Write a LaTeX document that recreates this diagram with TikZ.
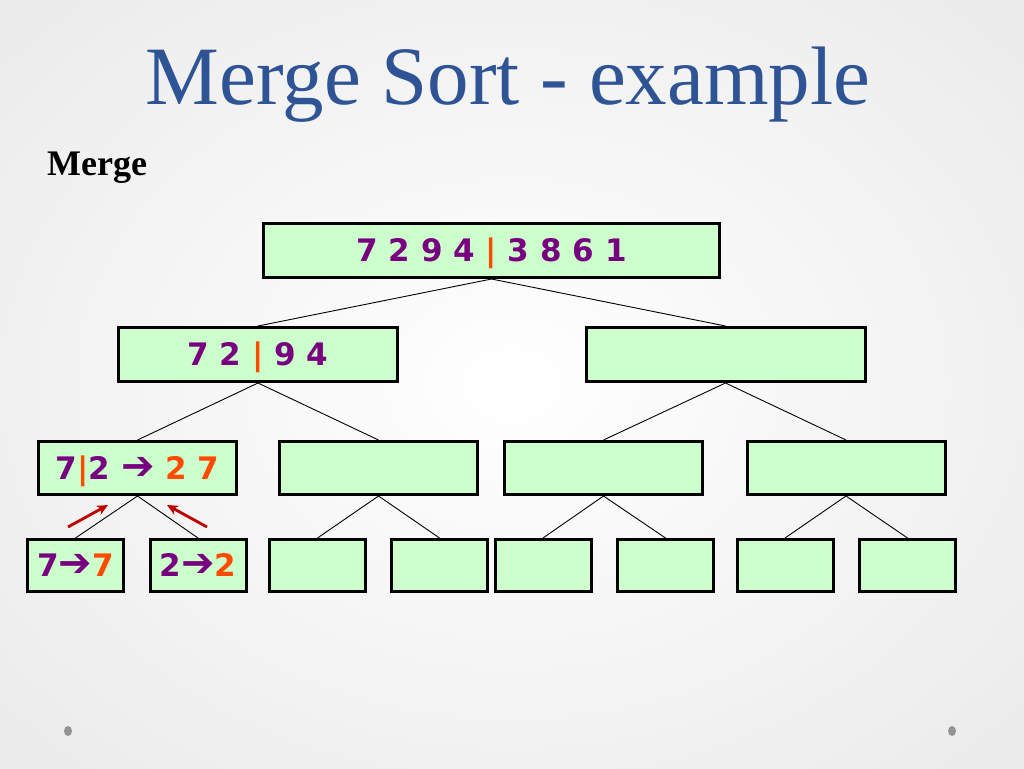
\documentclass[tikz,border=0pt]{standalone}
\usepackage{fontspec}
\setmainfont{Liberation Serif}
\newfontfamily\numfont{DejaVu Sans}
\usetikzlibrary{arrows.meta}
\definecolor{titleblue}{RGB}{47,84,150}
\definecolor{boxgreen}{RGB}{204,255,204}
\definecolor{numpurple}{RGB}{120,0,128}
\definecolor{numorange}{RGB}{255,75,0}
\definecolor{arrowred}{RGB}{192,0,0}
\definecolor{bggray}{RGB}{218,218,218}
\newcommand{\pu}[1]{\textcolor{numpurple}{#1}}
\newcommand{\og}[1]{\textcolor{numorange}{#1}}
\newcommand{\ar}{\pu{{\fontsize{40}{40}\selectfont ➔}}}

\begin{document}
\begin{tikzpicture}[x=1pt,y=-1pt,
	box/.style={draw,line width=3pt,fill=boxgreen,inner sep=0pt,
		font=\numfont\bfseries\fontsize{31}{36}\selectfont,
		text height=22.6pt,text depth=0pt},
	wide/.style={box,minimum width=456,minimum height=54},
	half/.style={box,minimum width=279,minimum height=54},
	quarter/.style={box,minimum width=198,minimum height=53},
	leaf/.style={box,minimum width=96,minimum height=52},
	edge/.style={line width=0.9pt},
	back/.style={line width=2.8pt,arrowred,-{Stealth[length=11pt,width=10pt]}}]
	% slide background
	\begin{scope}
		\clip (0,0) rectangle (1024,768);
		\fill[bggray] (0,0) rectangle (1024,768);
		\shade[inner color=white,outer color=bggray] (512,384) ellipse [x radius=1300,y radius=1000];
	\end{scope}
	\useasboundingbox (0,0) rectangle (1024,768);
	
	\node[titleblue,font=\fontsize{83}{90}\selectfont,anchor=base] (title) at (508,104) {Merge Sort - example};
	\node[font=\bfseries\fontsize{36}{40}\selectfont,anchor=base west,inner sep=0pt] (sub) at (47,175) {Merge};
	
	\node[wide] (n0) at (491.5,250.5) {\pu{7 2 9 4} \og{|} \pu{3 8 6 1}};
	
	\node[half] (n1) at (258,354.5) {\pu{7 2} \og{|} \pu{9 4}};
	\node[half] (n2) at (725.5,354.5) {};
	
	\node[quarter] (n11) at (137.5,468) {\pu{7}\og{|}\pu{2} \ar{} \og{2 7}};
	\node[quarter] (n12) at (378.5,468) {};
	\node[quarter] (n21) at (603.5,468) {};
	\node[quarter] (n22) at (846,468) {};
	
	\node[leaf] (n111) at (75.5,565.5) {\pu{7}\ar\og{7}};
	\node[leaf] (n112) at (198,565.5) {\pu{2}\ar\og{2}};
	\node[leaf] (n121) at (317.5,565.5) {};
	\node[leaf] (n122) at (439.5,565.5) {};
	\node[leaf] (n211) at (543,565.5) {};
	\node[leaf] (n212) at (665.5,565.5) {};
	\node[leaf] (n221) at (785,565.5) {};
	\node[leaf] (n222) at (907.5,565.5) {};
	
	\draw[edge] (n1.north) -- (n0.south) -- (n2.north);
	\draw[edge] (n11.north) -- (n1.south) -- (n12.north);
	\draw[edge] (n21.north) -- (n2.south) -- (n22.north);
	\draw[edge] (n111.north) -- (n11.south) -- (n112.north);
	\draw[edge] (n121.north) -- (n12.south) -- (n122.north);
	\draw[edge] (n211.north) -- (n21.south) -- (n212.north);
	\draw[edge] (n221.north) -- (n22.south) -- (n222.north);
	
	% merge arrows
	\coordinate (a1) at (68,527);
	\coordinate (b1) at (108,505);
	\coordinate (a2) at (207,527);
	\coordinate (b2) at (167,505);
	\draw[back] (a1) -- (b1);
	\draw[back] (a2) -- (b2);
	
	% footer
	\fill[gray!85] (68,731) ellipse [x radius=4,y radius=5];
	\fill[gray!85] (952,731) ellipse [x radius=4,y radius=5];
	\node[white!94!black,font=\fontsize{14}{16}\selectfont] (page) at (743,725) {34};
\end{tikzpicture}
\end{document}
